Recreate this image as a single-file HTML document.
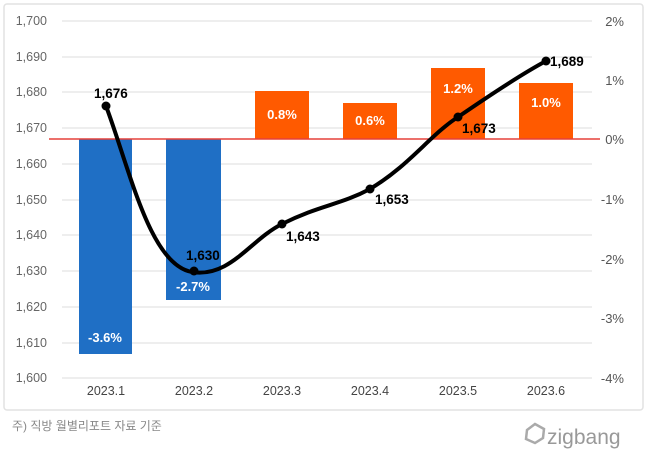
<!DOCTYPE html>
<html><head><meta charset="utf-8"><style>
html,body{margin:0;padding:0;background:#fff;width:650px;height:454px;overflow:hidden}
text{font-family:"Liberation Sans","Noto Sans CJK KR",sans-serif}
</style></head><body>
<svg width="650" height="454" viewBox="0 0 650 454" xmlns="http://www.w3.org/2000/svg">
<rect x="4" y="4" width="639" height="406" fill="#fff" stroke="#e2e2e2" stroke-width="1.5" rx="3"/>
<g stroke="#dcdcdc" stroke-width="1">
<line x1="62" x2="592" y1="21" y2="21"/><line x1="62" x2="592" y1="57" y2="57"/>
<line x1="62" x2="592" y1="92" y2="92"/><line x1="62" x2="592" y1="128" y2="128"/>
<line x1="62" x2="592" y1="164" y2="164"/><line x1="62" x2="592" y1="200" y2="200"/>
<line x1="62" x2="592" y1="235" y2="235"/><line x1="62" x2="592" y1="271" y2="271"/>
<line x1="62" x2="592" y1="307" y2="307"/><line x1="62" x2="592" y1="343" y2="343"/>
<line x1="62" x2="592" y1="378" y2="378"/>
</g>
<g font-size="12.5" fill="#666" text-anchor="end">
<text x="47" y="25">1,700</text><text x="47" y="61">1,690</text><text x="47" y="96">1,680</text>
<text x="47" y="132">1,670</text><text x="47" y="168">1,660</text><text x="47" y="204">1,650</text>
<text x="47" y="239">1,640</text><text x="47" y="275">1,630</text><text x="47" y="311">1,620</text>
<text x="47" y="347">1,610</text><text x="47" y="382">1,600</text>
</g>
<g font-size="13" fill="#555" text-anchor="end">
<text x="624" y="26">2%</text><text x="624" y="85">1%</text><text x="624" y="144">0%</text>
<text x="624" y="204">-1%</text><text x="624" y="264">-2%</text><text x="624" y="323">-3%</text><text x="624" y="383">-4%</text>
</g>
<rect x="79" y="139" width="53" height="215" fill="#1f6fc5"/>
<rect x="166" y="139" width="55" height="161" fill="#1f6fc5"/>
<rect x="255" y="91" width="54" height="48" fill="#ff5a00"/>
<rect x="343" y="103" width="54" height="36" fill="#ff5a00"/>
<rect x="431" y="68" width="54" height="71" fill="#ff5a00"/>
<rect x="519" y="83" width="54" height="56" fill="#ff5a00"/>
<line x1="49" x2="600" y1="139" y2="139" stroke="#e5403a" stroke-width="1.5"/>
<g font-size="13" font-weight="bold" fill="#fff" text-anchor="middle">
<text x="105" y="342">-3.6%</text><text x="193" y="291">-2.7%</text>
<text x="282" y="119">0.8%</text><text x="370" y="125">0.6%</text>
<text x="458" y="93">1.2%</text><text x="546" y="107">1.0%</text>
</g>
<path d="M106,106 C130,170 150,265 192,272 C230,278 250,240 282,224 C320,205 340,205 370,189 C410,165 430,135 458,117 C490,95 520,75 546,61" fill="none" stroke="#000" stroke-width="4"/>
<g fill="#000"><circle cx="106" cy="106" r="4.5"/><circle cx="194" cy="271" r="4.5"/><circle cx="282" cy="224" r="4.5"/>
<circle cx="370" cy="189" r="4.5"/><circle cx="458" cy="117" r="4.5"/><circle cx="546" cy="61" r="4.5"/></g>
<g font-size="13.5" font-weight="bold" fill="#000">
<text x="94" y="98">1,676</text><text x="186" y="260">1,630</text><text x="286" y="241">1,643</text>
<text x="375" y="204">1,653</text><text x="462" y="133">1,673</text><text x="550" y="66">1,689</text>
</g>
<g font-size="12.5" fill="#444" text-anchor="middle">
<text x="106" y="395">2023.1</text><text x="194" y="395">2023.2</text><text x="282" y="395">2023.3</text>
<text x="370" y="395">2023.4</text><text x="458" y="395">2023.5</text><text x="546" y="395">2023.6</text>
</g>
<text x="12" y="430" font-size="12" fill="#888">주) 직방 월별리포트 자료 기준</text>
<path d="M527,430 l8,-6 l9,5 l-1,9 l-8,5 l-9,-4 z" fill="none" stroke="#aaa" stroke-width="2.5"/>
<text x="547" y="444" font-size="21" fill="#999">zigbang</text>
</svg>
</body></html>
